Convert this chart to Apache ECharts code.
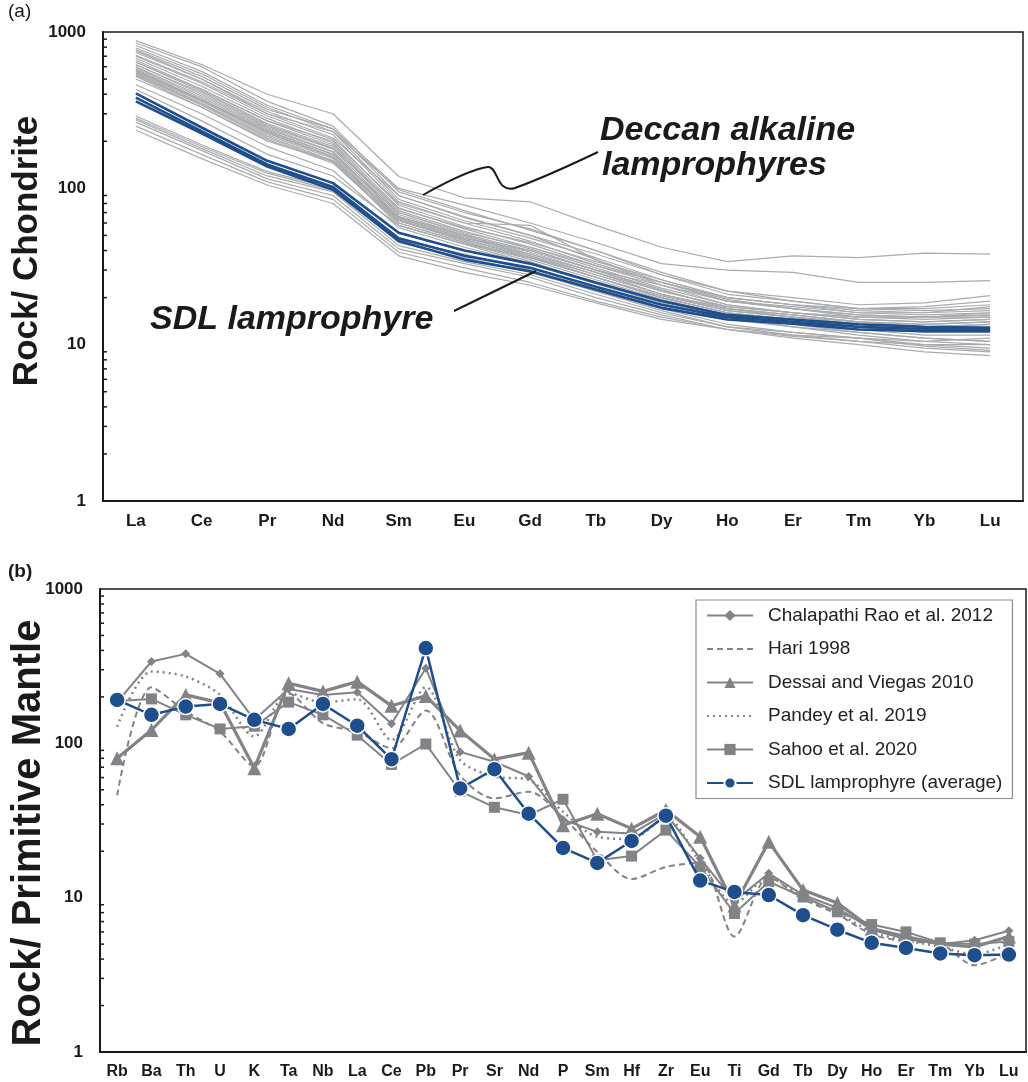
<!DOCTYPE html>
<html><head><meta charset="utf-8">
<script src="https://cdn.jsdelivr.net/npm/echarts@6/dist/echarts.min.js"></script>
<style>html,body{margin:0;padding:0;background:#fff}#c{width:1028px;height:1082px}</style>
</head><body><div id="c"></div>
<script>
// ---------- Panel (a): chondrite-normalised REE ----------
const reeElements = ['La','Ce','Pr','Nd','Sm','Eu','Gd','Tb','Dy','Ho','Er','Tm','Yb','Lu'];
const sdlSamples = [
  [405,245,150,108,52,40,33,25,19,15.5,14.5,13.5,13,12.8],
  [380,232,142,102,48,37,31,23.5,18,15,14,13,12.6,12.5],
  [360,225,138,98,46,35,29.5,22.5,17.2,14.5,13.6,12.5,12.2,12.2]
];
const deccanSamples = [
  [880,620,400,300,119,87,82,58,42,34,37,36,38.5,38],
  [820,560,340,240,100,78,60,45,33,30,29,25,25,25.7],
  [760,500,300,210,90,65,50,38,28,22,20,18,18.5,20.6],
  [850,600,360,250,95,70,55,40,28,21,19,17,16.5,17],
  [790,540,330,230,85,62,48,36,26,20,18,16,15.5,16],
  [740,500,310,220,82,60,46,33,25,19.5,17,15.5,15,15.5],
  [700,470,290,205,78,57,44,32,24,19,17.5,16,16,17.5],
  [680,450,280,195,75,55,42,31,23,18,16,14.5,14,14.5],
  [660,430,270,190,72,53,41,30,22,17.5,16,15,15,16],
  [640,420,260,185,70,52,42,32,25,20,18,16.5,16,16.5],
  [620,400,250,178,68,50,38,28,21,17,15.5,14,13.5,14],
  [600,390,245,172,66,49,37,27,20.5,16.5,15,13.5,13,13.5],
  [590,380,240,170,65,48,40,30,24,19,17,15.5,15,15],
  [580,370,232,165,63,47,36,27,20,16,14.5,13,12.5,12.8],
  [570,365,228,160,62,46,35,26,19.5,15.5,14,12.5,11.5,11.5],
  [560,360,225,158,64,48,38,29,22,17.5,16,14.5,14,14.5],
  [550,350,220,155,60,45,34,25,19,15,13.5,12,11,10.5],
  [540,345,215,150,58,44,33,24.5,18.5,14.5,13,11.5,10.5,10],
  [530,340,210,148,62,47,37,28,21,17,15,14,13.5,14],
  [520,330,205,145,60,45,36,27,20,16,14.5,13.5,13,13.5],
  [640,430,270,200,80,60,58,35,24,18,16,15,15,15.5],
  [710,480,300,230,98,72,54,40,29,22,19,17,17,18],
  [770,520,320,240,90,66,50,35,25,19,17,15,14.5,15],
  [615,410,255,180,74,56,45,34,26,20,18,17,17.5,19],
  [560,370,235,165,70,51,40,30,22.5,17,15.5,14,13,13],
  [500,330,200,150,66,50,39,29,21,16.5,15,13.5,13,13],
  [460,300,185,130,56,42,33,25,19,15,13,12,11,10.5],
  [430,270,165,120,58,44,36,27,20,16,14,13,12,12],
  [290,190,128,100,45,36,29,22,17,13.5,12,11,10,9.5],
  [275,180,120,95,43,34,28,21,16,13,11.5,10.5,9.5,9],
  [265,175,115,90,41,33,27,20,15.5,12.5,11,10,9,8.5],
  [250,165,110,85,39,31,25,19,15,12.5,11.3,10.5,10,10],
  [235,155,105,80,37,29,24,18.5,14.5,12.5,11.5,11,10.5,11],
  [282,185,125,97,47,38,30,22,16.5,13,12,11,9.8,9.2]
];

// ---------- Panel (b): primitive-mantle-normalised multi-element ----------
const spiderElements = ['Rb','Ba','Th','U','K','Ta','Nb','La','Ce','Pb','Pr','Sr','Nd','P','Sm','Hf','Zr','Eu','Ti','Gd','Tb','Dy','Ho','Er','Tm','Yb','Lu'];
const chalapathi = [185,339,380,282,142,225,206,214,134,307,88,76,61,32,26.7,26,35,18,9.5,14.4,10.4,8.6,6.2,5.4,5.0,5.3,6.1];
const hari       = [46,231,161,119,71,211,135,119,93,163,62,44,48.6,33,19.8,13.2,15.8,16.8,5.6,13.5,9.8,7.8,5.8,5.2,5.0,3.65,4.4];
const dessai     = [80,122,206,183,69,245,217,251,175,203,121,79,87,29.5,35,28,37,24.8,8.9,23,11.2,9.25,6.3,5.6,5.0,4.8,5.6];
const pandey     = [128,292,271,206,111,211,184,193,105,231,78,61,58,36,24.8,24,33,17,9.2,13.5,10,8,6.0,5.3,4.8,4.3,5.0];
const sahoo      = [188,194,153,124,129,185,153,113,73,99,49,38.5,34.3,43.4,17.5,18.6,27.4,15.8,7.9,12.7,10.1,8.1,6.7,6.0,5.1,5.0,5.2];
const sdlAverage = [191,153,173,180,142,124,180,130,79,414,51,68,35,21,16.8,23.3,34,12.9,10.9,10.4,7.7,6.2,5.1,4.72,4.35,4.24,4.28];
const seriesNames = ['Chalapathi Rao et al. 2012','Hari 1998','Dessai and Viegas 2010','Pandey et al. 2019','Sahoo et al. 2020','SDL lamprophyre (average)'];

const minorTickValues = [2,3,4,5,6,7,8,9,20,30,40,50,60,70,80,90,200,300,400,500,600,700,800,900];

const GREY = '#818387', BLUE = '#1f4e8c', LGREY = '#a9abae', INK = '#1a1a1a';
const FONT = '"Liberation Sans", Arial, Helvetica, sans-serif';

function catAxis(gi, data, size){
  return { gridIndex: gi, type: 'category', data: data, boundaryGap: true,
    axisLine: { lineStyle: { color: INK, width: 2 } },
    axisTick: { inside: true, length: 6, lineStyle: { color: INK, width: 1.5 } },
    axisLabel: { interval: 0, color: INK, fontFamily: FONT, fontWeight: 'bold', fontSize: size, margin: 12 },
    splitLine: { show: false } };
}
function logAxis(gi, margin){
  return { gridIndex: gi, type: 'log', logBase: 10, min: 1, max: 1000,
    axisLine: { show: true, lineStyle: { color: INK, width: 2 } },
    axisTick: { inside: true, length: 7, lineStyle: { color: INK, width: 1.5 } },
    axisLabel: { color: INK, fontFamily: FONT, fontWeight: 'bold', fontSize: 17, margin: margin,
      formatter: v => String(Math.round(v)) },
    splitLine: { show: false } };
}
function minorTicks(gi){
  return { type: 'custom', xAxisIndex: gi, yAxisIndex: gi, silent: true, z: 10, clip: false,
    data: minorTickValues.map(v => [0, v]),
    renderItem: function(params, api){
      const p = api.coord([0, api.value(1)]);
      const x0 = params.coordSys.x;
      return { type: 'line', shape: { x1: x0, y1: p[1], x2: x0 + 4, y2: p[1] },
        style: { stroke: INK, lineWidth: 1.5 } };
    } };
}

const series = [];
deccanSamples.forEach((d, i) => series.push({ type: 'line', name: 'Deccan ' + i, xAxisIndex: 0, yAxisIndex: 0,
  data: d, symbol: 'none', silent: true, z: 2, lineStyle: { color: LGREY, width: 1.2 } }));
sdlSamples.forEach((d, i) => series.push({ type: 'line', name: 'SDL ' + i, xAxisIndex: 0, yAxisIndex: 0,
  data: d, symbol: 'none', silent: true, z: 3, lineStyle: { color: BLUE, width: 2.6 } }));
series.push(minorTicks(0));

const panelB = [
  { data: chalapathi, symbol: 'diamond', symbolSize: 9, lineStyle: { color: GREY, width: 2 }, smooth: false },
  { data: hari, symbol: 'none', lineStyle: { color: GREY, width: 2, type: [6, 4] }, smooth: 0.3 },
  { data: dessai, symbol: 'triangle', symbolSize: 14, lineStyle: { color: GREY, width: 3.2 }, smooth: false },
  { data: pandey, symbol: 'none', lineStyle: { color: GREY, width: 2.5, type: [2, 4] }, smooth: 0.3 },
  { data: sahoo, symbol: 'rect', symbolSize: 11, lineStyle: { color: GREY, width: 2 }, smooth: false },
  { data: sdlAverage, symbol: 'circle', symbolSize: 16, lineStyle: { color: BLUE, width: 2.5 }, smooth: false }
];
panelB.forEach((s, i) => series.push(Object.assign({ type: 'line', name: seriesNames[i], xAxisIndex: 1, yAxisIndex: 1,
  z: 4 + i, silent: true,
  itemStyle: { color: i === 5 ? BLUE : GREY, borderColor: i === 5 ? '#ffffff' : GREY, borderWidth: i === 5 ? 1.5 : 0, opacity: 1 } }, s)));
series.push(minorTicks(1));

const legendData = seriesNames.map((n, i) => (i === 1 || i === 3)
  ? { name: n, itemStyle: { opacity: 0, color: 'rgba(0,0,0,0)', borderWidth: 0 } }
  : { name: n });

const chart = echarts.init(document.getElementById('c'), null, { renderer: 'canvas' });
chart.setOption({
  animation: false,
  backgroundColor: '#ffffff',
  textStyle: { fontFamily: FONT },
  grid: [
    { left: 103, top: 32, width: 920, height: 469, show: true, borderColor: INK, borderWidth: 1.5, backgroundColor: 'transparent' },
    { left: 100, top: 589, width: 926, height: 463, show: true, borderColor: INK, borderWidth: 1.5, backgroundColor: 'transparent' }
  ],
  xAxis: [catAxis(0, reeElements, 17), catAxis(1, spiderElements, 16)],
  yAxis: [logAxis(0, 17), logAxis(1, 17)],
  legend: {
    data: legendData, orient: 'vertical', left: 696, top: 600,
    itemWidth: 46, itemHeight: 14, itemGap: 14.5,
    padding: [6, 10, 6, 10],
    borderColor: '#8a8a8a', borderWidth: 1.2, backgroundColor: '#ffffff',
    textStyle: { color: '#222', fontFamily: FONT, fontSize: 19, padding: [0, 0, 0, 10] },
    selectedMode: false
  },
  graphic: [
    { type: 'text', left: 8, top: 2, style: { text: '(a)', font: '19px ' + FONT, fill: INK } },
    { type: 'text', left: 8, top: 562, style: { text: '(b)', font: 'bold 19px ' + FONT, fill: INK } },
    { type: 'text', x: 27, y: 251, rotation: Math.PI / 2,
      style: { text: 'Rock/ Chondrite', font: 'bold 35px ' + FONT, fill: INK, align: 'center', verticalAlign: 'middle' } },
    { type: 'text', x: 29, y: 833, rotation: Math.PI / 2,
      style: { text: 'Rock/ Primitive Mantle', font: 'bold 40px ' + FONT, fill: INK, align: 'center', verticalAlign: 'middle' } },
    { type: 'text', x: 600, y: 131, style: { text: 'Deccan alkaline', font: 'italic bold 34px ' + FONT, fill: INK, verticalAlign: 'middle' } },
    { type: 'text', x: 602, y: 166, style: { text: 'lamprophyres', font: 'italic bold 34px ' + FONT, fill: INK, verticalAlign: 'middle' } },
    { type: 'text', x: 150, y: 320, style: { text: 'SDL lamprophyre', font: 'italic bold 34px ' + FONT, fill: INK, verticalAlign: 'middle' } },
    { type: 'polyline', shape: { points: [[423,195],[488,167],[503,186],[515,188],[598,152]], smooth: 0.35 },
      style: { stroke: INK, lineWidth: 2, fill: null }, z: 100 },
    { type: 'line', shape: { x1: 454, y1: 311, x2: 536, y2: 271 }, style: { stroke: INK, lineWidth: 2 }, z: 100 }
  ],
  series: series
});
</script></body></html>
